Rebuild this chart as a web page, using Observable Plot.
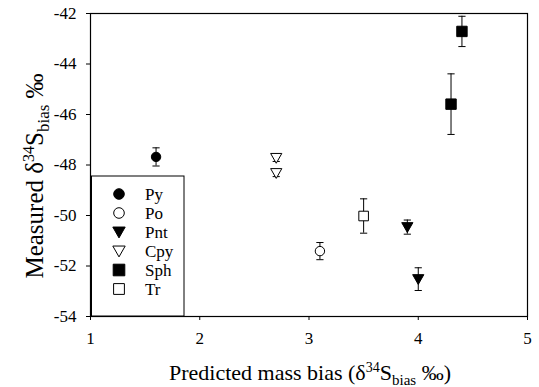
<!DOCTYPE html>
<html><head><meta charset="utf-8">
<script src="https://cdn.jsdelivr.net/npm/d3@7"></script>
<script src="https://cdn.jsdelivr.net/npm/@observablehq/plot@0.6"></script>
<style>
body{margin:0;background:#fff}
svg, svg text, svg tspan{font-family:"Liberation Serif","Times New Roman",serif !important}
</style>
</head><body><div id="chart"></div><script>
// Data
const minerals = ["Py","Po","Pnt","Cpy","Sph","Tr"];
const groups    = ["Py","Po","Pnt","Pnt","Cpy","Cpy","Sph","Sph","Tr"];
const predicted = [1.6, 3.1, 3.9, 4.0, 2.7, 2.7, 4.4, 4.3, 3.5];
const measured  = [-47.68, -51.41, -50.46, -52.52, -47.72, -48.32, -42.71, -45.59, -50.02];
const errors    = [0.36, 0.34, 0.28, 0.45, 0.14, 0.14, 0.6, 1.2, 0.68];
const xTicks = [1, 2, 3, 4, 5];
const yTicks = [-54, -52, -50, -48, -46, -44, -42];

const data = groups.map((g, i) => ({g, x: predicted[i], y: measured[i], e: errors[i]}));

// custom symbols (size = pi r^2 as Plot passes it)
const rad = s => Math.sqrt(s / Math.PI);
const sq = {draw(c, s){ const r = rad(s); c.rect(-r, -r, 2*r, 2*r); }};
const triDown = {draw(c, s){ const r = rad(s); c.moveTo(-r, -0.8*r); c.lineTo(r, -0.8*r); c.lineTo(0, 0.95*r); c.closePath(); }};
const circ = {draw(c, s){ const r = rad(s); c.moveTo(r, 0); c.arc(0, 0, r, 0, 2*Math.PI); }};
const hline = {draw(c, s){ const r = rad(s); c.moveTo(-r, 0); c.lineTo(r, 0); }};

const style = {
  Py:  {symbol: circ,    fill: "#000", r: 4.7},
  Po:  {symbol: circ,    fill: "#fff", r: 4.7},
  Pnt: {symbol: triDown, fill: "#000", r: 5.6},
  Cpy: {symbol: triDown, fill: "#fff", r: 5.6},
  Sph: {symbol: sq,      fill: "#000", r: 5.2},
  Tr:  {symbol: sq,      fill: "#fff", r: 4.8}
};

const marks = [
  Plot.frame({stroke: "#000", strokeWidth: 1.2}),
  Plot.axisX({ticks: xTicks, tickFormat: d => String(d), tickSize: 4, tickPadding: 11, fontSize: 17, label: null, stroke: "#000", color: "#000"}),
  Plot.axisY({ticks: yTicks, tickFormat: d => String(d), tickSize: 4, tickPadding: 10, fontSize: 17, label: null, stroke: "#000", color: "#000"}),
  Plot.ruleX(data, {x: "x", y1: d => d.y - d.e, y2: d => d.y + d.e, stroke: "#000", strokeWidth: 1}),
  Plot.dot(data, {x: "x", y: d => d.y - d.e, symbol: hline, r: 3.6, stroke: "#000", fill: "none", strokeWidth: 1}),
  Plot.dot(data, {x: "x", y: d => d.y + d.e, symbol: hline, r: 3.6, stroke: "#000", fill: "none", strokeWidth: 1}),
  ...minerals.map(m => Plot.dot(data.filter(d => d.g === m), {
    x: "x", y: "y", symbol: style[m].symbol, r: style[m].r,
    fill: style[m].fill, stroke: "#000", strokeWidth: 1
  }))
];

const chart = Plot.plot({
  width: 539, height: 387,
  marginLeft: 90, marginRight: 12, marginTop: 13, marginBottom: 71,
  x: {domain: [1, 5]},
  y: {domain: [-54, -42]},
  style: {fontFamily: "Liberation Serif, serif", background: "#fff", color: "#000"},
  marks
});
document.getElementById("chart").appendChild(chart);

const svg = d3.select(chart);
svg.attr("font-family", "Liberation Serif, serif");

// Legend box
const lg = svg.append("g").attr("text-anchor", "start");
lg.append("rect").attr("x", 91.5).attr("y", 176).attr("width", 92.5).attr("height", 140)
  .attr("fill", "#fff").attr("stroke", "#000").attr("stroke-width", 1);
minerals.forEach((m, i) => {
  const cy = 194 + i * 19;
  lg.append("path")
    .attr("d", d3.symbol().type(style[m].symbol).size(Math.PI * Math.pow(style[m].r + 0.6, 2))())
    .attr("transform", `translate(119,${cy})`)
    .attr("fill", style[m].fill).attr("stroke", "#000").attr("stroke-width", 1);
  lg.append("text").attr("x", 145).attr("y", cy).attr("dy", "0.34em")
    .attr("text-anchor", "start")
    .style("font-size", "17px").attr("fill", "#000").text(m);
});

// Axis titles with sub/superscripts
function title(t, big) {
  t.style("font-size", big + "px").attr("fill", "#000").attr("text-anchor", "middle");
  return t;
}
const yt = title(svg.append("text").attr("transform", "translate(43,176) rotate(-90)"), 25);
yt.append("tspan").text("Measured δ");
yt.append("tspan").attr("dy", -9).style("font-size", "16px").text("34");
yt.append("tspan").attr("dy", 9).text("S");
yt.append("tspan").attr("dy", 6).style("font-size", "17px").text("bias");
yt.append("tspan").attr("dy", -6).text(" ‰");

const xt = title(svg.append("text").attr("x", 310).attr("y", 380), 22);
xt.append("tspan").text("Predicted mass bias (δ");
xt.append("tspan").attr("dy", -8).style("font-size", "14px").text("34");
xt.append("tspan").attr("dy", 8).text("S");
xt.append("tspan").attr("dy", 5).style("font-size", "15px").text("bias");
xt.append("tspan").attr("dy", -5).text(" ‰)");
</script></body></html>
